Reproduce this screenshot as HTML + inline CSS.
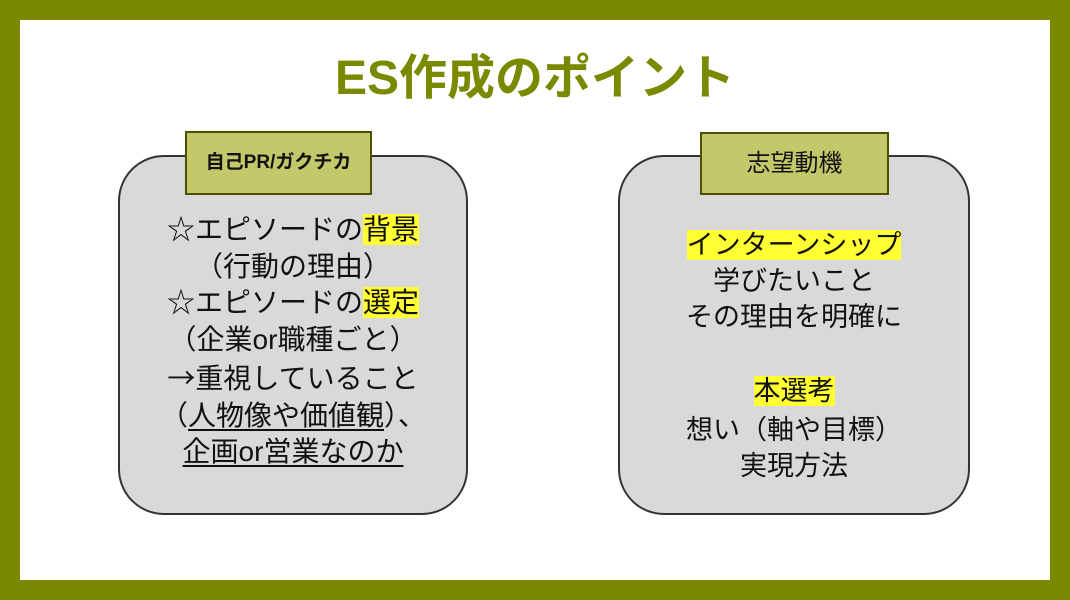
<!DOCTYPE html>
<html><head><meta charset="utf-8"><style>
html,body{margin:0;padding:0;}
body{width:1070px;height:600px;background:#7a8a00;position:relative;overflow:hidden;font-family:"Liberation Sans","Noto Sans CJK JP",sans-serif;}
.inner{position:absolute;left:20px;top:20px;width:1030px;height:560px;background:#fff;}
.title{position:absolute;left:0;width:1070px;top:48px;text-align:center;font-size:48px;font-weight:bold;color:#7a8a00;line-height:62px;}
.box{position:absolute;top:155px;height:360px;background:#d9d9d9;border:2px solid #333;border-radius:46px;box-sizing:border-box;}
.lab{position:absolute;background:#c3c96a;border:2px solid #4a5200;box-sizing:border-box;text-align:center;color:#111;}
.txt{position:absolute;left:0;right:0;text-align:center;color:#111;}
.hl{background:#ffff33;}
.cjk{font-family:"Noto Sans CJK JP",sans-serif;}
u{text-decoration-thickness:2px;text-underline-offset:4px;}
</style></head><body>
<div class="inner"></div>
<div class="title">ES作成のポイント</div>

<div class="box" style="left:118px;width:350px;">
 <div class="txt" style="top:55px;font-size:28px;line-height:36.7px;">
  ☆エピソードの<span class="hl">背景</span><br>（行動の理由）<br>☆エピソードの<span class="hl">選定</span><br>（企業or職種ごと）<br><span class="cjk">→</span>重視していること<br>（<u>人物像や価値観</u>）、<br><u>企画or営業なのか</u>
 </div>
</div>
<div class="lab" style="left:185px;top:131px;width:187px;height:64px;font-size:19px;line-height:60px;font-weight:bold;">自己PR/ガクチカ</div>

<div class="box" style="left:618px;width:352px;">
 <div class="txt" style="top:70px;font-size:27px;line-height:36px;">
  <span class="hl">インターンシップ</span><br>学びたいこと<br>その理由を明確に<br><div style="height:38px"></div><span class="hl">本選考</span><br><div style="height:3px"></div>想い（軸や目標）<br>実現方法
 </div>
</div>
<div class="lab" style="left:700px;top:132px;width:189px;height:63px;font-size:24px;line-height:59px;">志望動機</div>
</body></html>
